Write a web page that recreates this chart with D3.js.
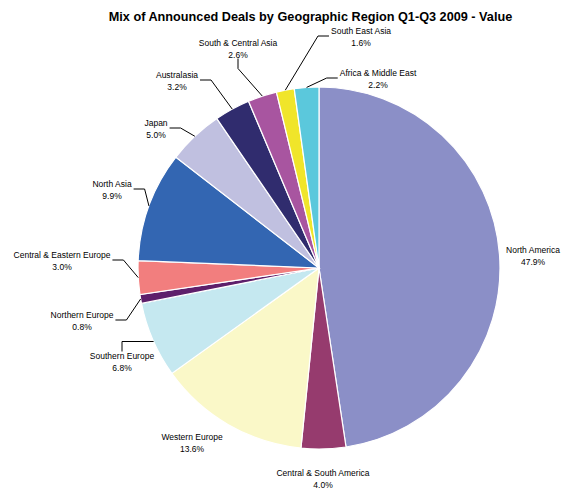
<!DOCTYPE html>
<html>
<head>
<meta charset="utf-8">
<script src="https://cdn.jsdelivr.net/npm/d3@7"></script>
<style>
	body { margin: 0; background: #FFFFFF; }
	text { font-family: "Liberation Sans", Arial, sans-serif; fill: #000000; }
</style>
</head>
<body>
<svg id="chart"></svg>
<script>
// data
var regions = ["North America", "Central & South America", "Western Europe", "Southern Europe",
			   "Northern Europe", "Central & Eastern Europe", "North Asia", "Japan",
			   "Australasia", "South & Central Asia", "South East Asia", "Africa & Middle East"];
var shares = [47.9, 4.0, 13.6, 6.8, 0.8, 3.0, 9.9, 5.0, 3.2, 2.6, 1.6, 2.2];
var sliceColors = ["#8B8FC7", "#963B6E", "#FAF8C8", "#C5E8F0", "#5E1F6B", "#F27E7E",
				   "#3366B2", "#C0C0E0", "#302C6E", "#A855A0", "#F0E52A", "#5BC8DC"];

// label layout: centre of each label block relative to pie centre, and where the leader leaves it
var labelCentres = [[214, -13], [4, 210], [-127, 174], [-197, 93], [-237, 52], [-257, -8],
					[-207, -79], [-163, -140], [-142, -188], [-81, -220], [42, -232], [59, -190]];
var leaderSide = ["", "", "", "top", "right", "right", "right", "right", "right", "bottom", "left", "left"];

var W = 563, H = 490;
var cx = 319, cy = 268, R = 181;

var svg = d3.select("#chart").attr("width", W).attr("height", H);

svg.append("text")
	.attr("x", 310.5)
	.attr("y", 20.5)
	.attr("text-anchor", "middle")
	.attr("font-weight", "bold")
	.attr("font-size", "12.7px")
	.text("Mix of Announced Deals by Geographic Region Q1-Q3 2009 - Value");

var data = regions.map(function(r, i){ return {"cat": r, "val": shares[i], "i": i}; });

var pie = d3.pie().sort(null).value(function(d){ return d.val; });
var arc = d3.arc().innerRadius(0).outerRadius(R);

var g = svg.append("g").attr("transform", "translate(" + cx + "," + cy + ")");
var arcs = pie(data);

g.selectAll("path.slice")
	.data(arcs)
	.enter()
	.append("path")
		.attr("class", "slice")
		.attr("d", arc)
		.style("fill", function(d){ return sliceColors[d.data.i]; })
		.style("stroke", "#FFFFFF")
		.style("stroke-width", 1.2);

// leader lines
var lineH = 11.5, stub = 11;
var line = d3.line();
arcs.forEach(function(d){
	var i = d.data.i, side = leaderSide[i];
	if(!side) return;
	var mid = (d.startAngle + d.endAngle) / 2;
	var px = R * Math.sin(mid), py = -R * Math.cos(mid);
	var c = labelCentres[i];
	var tw = textWidth(d.data.cat);
	var a, b;
	if(side === "right"){ a = [c[0] + tw / 2 + 2, c[1]]; b = [a[0] + stub, a[1]]; }
	if(side === "left"){ a = [c[0] - tw / 2 - 2, c[1]]; b = [a[0] - stub, a[1]]; }
	// southern europe: straight across to the rim
	if(side === "top"){ a = [c[0], c[1] - lineH + 2]; b = [a[0], a[1] - 10]; px = -Math.sqrt(R * R - b[1] * b[1]); py = b[1]; }
	if(side === "bottom"){ a = [c[0], c[1] + lineH - 1]; b = [a[0], a[1] + 10]; }
	g.append("path")
		.attr("d", line([a, b, [px, py]]))
		.style("fill", "none")
		.style("stroke", "#000000")
		.style("stroke-width", 1);
});

// labels
var labels = g.selectAll("text.lbl")
	.data(arcs)
	.enter()
	.append("text")
		.attr("class", "lbl")
		.attr("text-anchor", "middle")
		.attr("font-size", "8.5px");
labels.append("tspan")
	.attr("x", function(d){ return labelCentres[d.data.i][0]; })
	.attr("y", function(d){ return labelCentres[d.data.i][1] - 2; })
	.text(function(d){ return d.data.cat; });
labels.append("tspan")
	.attr("x", function(d){ return labelCentres[d.data.i][0]; })
	.attr("y", function(d){ return labelCentres[d.data.i][1] - 2 + lineH; })
	.text(function(d){ return d.data.val.toFixed(1) + "%"; });

function textWidth(s){
	var t = svg.append("text").attr("font-size", "8.5px").text(s);
	var w = t.node().getComputedTextLength();
	t.remove();
	return w;
}
</script>
</body>
</html>
